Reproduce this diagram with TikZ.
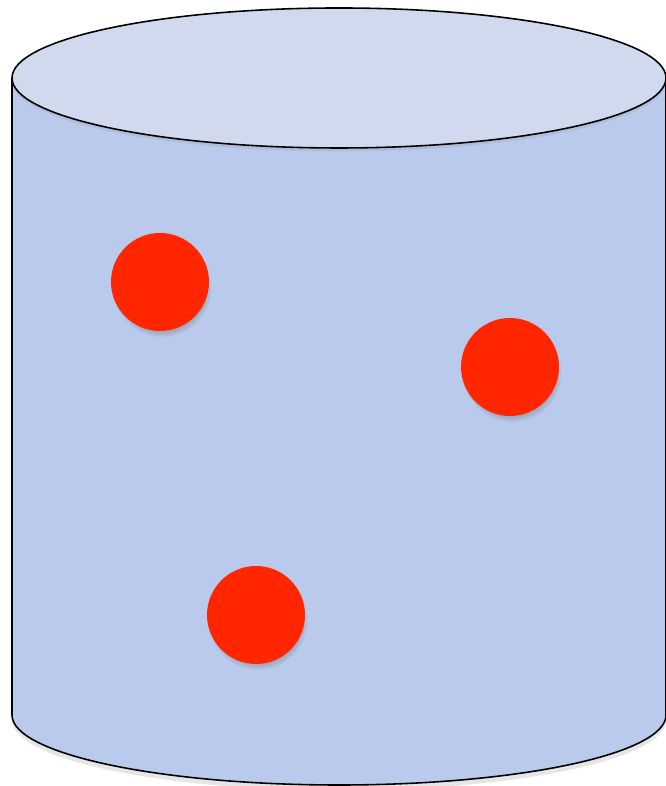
\documentclass[tikz,border=0pt]{standalone}
\usepackage{tikz}
\usetikzlibrary{shadows}
\definecolor{tankbody}{HTML}{B9CAEC}
\definecolor{tanktop}{HTML}{D0D9EE}
\definecolor{dotred}{HTML}{FF2600}

\begin{document}
\begin{tikzpicture}[x=0.02cm,y=0.02cm,
    dot/.style={circle,fill=dotred,minimum size=1.96cm,inner sep=0pt,
      circular drop shadow={shadow xshift=1pt,shadow yshift=-3pt,
        shadow scale=1.02,opacity=0.5}}]
  \useasboundingbox (0,0) rectangle (665,786);
  % ---------- cylinder : body, then lid -------------------
  \draw[line width=0.9pt,fill=tankbody,
        drop shadow={shadow xshift=0pt,shadow yshift=-3pt,opacity=0.2}]
      (12,708) -- (12,71)
      arc[start angle=180,end angle=360,x radius=327,y radius=70]
      -- (666,708);
  \draw[line width=0.9pt,fill=tanktop,
        drop shadow={shadow xshift=0pt,shadow yshift=-2pt,opacity=0.15}]
      (339,708) ellipse[x radius=327,y radius=70];
  % ---------- particles -----------------------------------
  \node[dot] (p1) at (160,504) {};
  \node[dot] (p2) at (510,419) {};
  \node[dot] (p3) at (256,171) {};
\end{tikzpicture}
\end{document}
